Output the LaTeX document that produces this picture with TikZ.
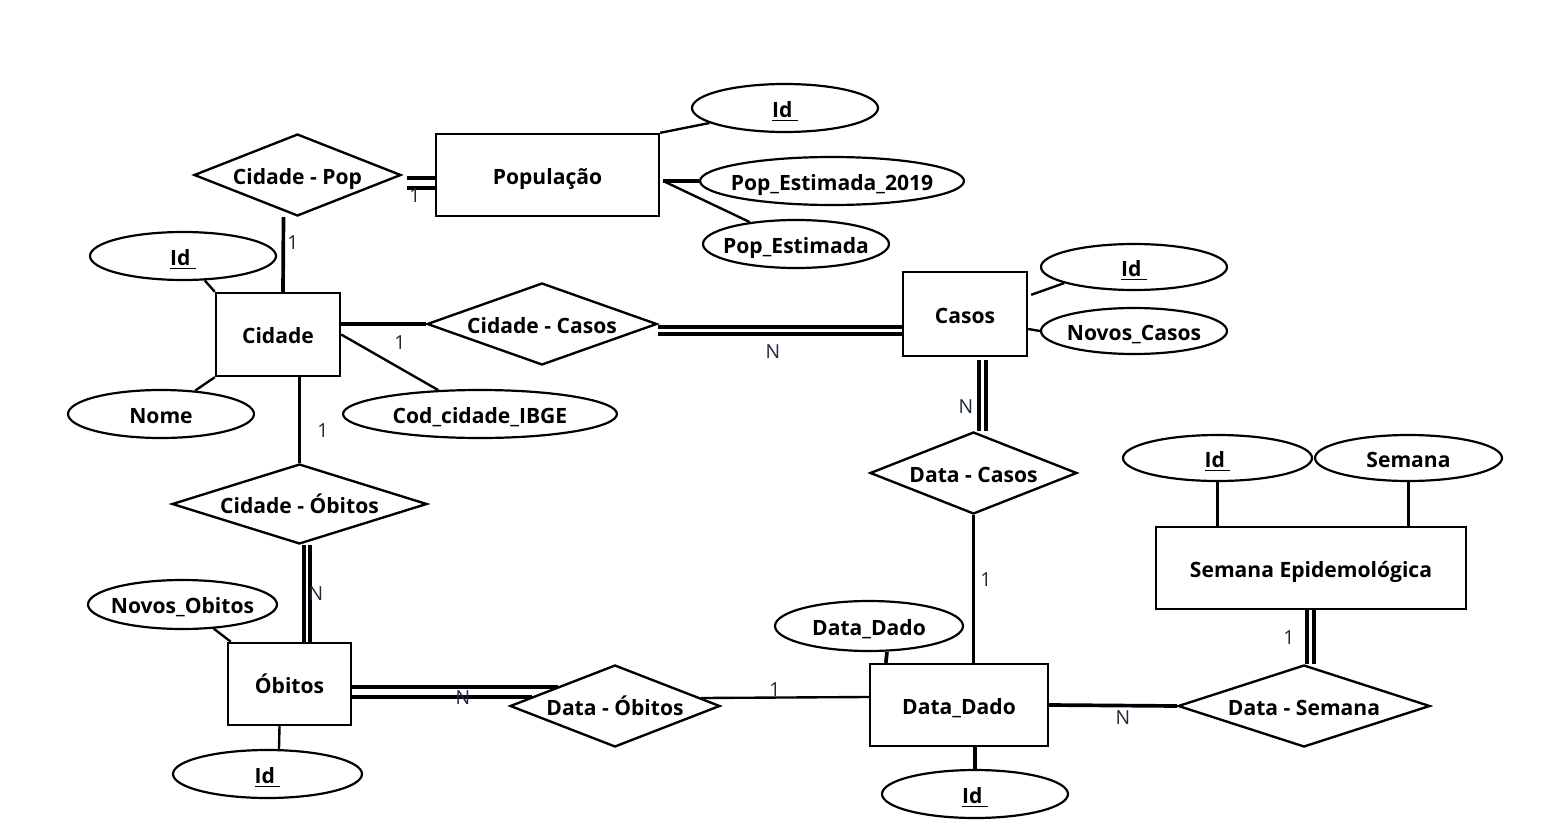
\documentclass[tikz,border=0pt]{standalone}
\usepackage{fontspec}
\setmainfont{Open Sans}
\usetikzlibrary{calc,shapes.geometric}
\definecolor{cardcor}{RGB}{30,40,60}
\def\chave#1{\underline{#1\ }}

\begin{document}
\begin{tikzpicture}[x=0.02cm, y=-0.02cm,
	entidade/.style={draw, line width=1.35pt, rectangle, inner sep=0pt, text height=12.5pt, text depth=2pt, font=\fontsize{12}{14}\selectfont\bfseries},
	atributo/.style={draw, line width=1.25pt, ellipse, inner sep=-3cm, text height=12.5pt, text depth=2pt, font=\fontsize{12}{14}\selectfont\bfseries},
	relacao/.style={draw, line width=1.35pt, diamond, aspect=2.5, inner sep=-3cm, text height=12.5pt, text depth=2pt, font=\fontsize{12}{14}\selectfont\bfseries},
	liga/.style={line width=1.35pt},
	grossa/.style={line width=2.1pt},
	card/.style={inner sep=0pt, text=cardcor, font=\fontsize{11}{13}\selectfont}]
	%%%%% START %%%%%
	
	\useasboundingbox (0,0) rectangle (1542,838);
	
	% entidades
	\node[entidade, minimum width=4.46cm, minimum height=1.64cm] (pop) at (547.5,175) {População};
	\node[entidade, minimum width=2.48cm, minimum height=1.66cm] (cidade) at (278,334.5) {Cidade};
	\node[entidade, minimum width=2.48cm, minimum height=1.68cm] (casos) at (965,314) {Casos};
	\node[entidade, minimum width=6.2cm, minimum height=1.64cm] (semepi) at (1311,568) {Semana Epidemológica};
	\node[entidade, minimum width=3.56cm, minimum height=1.64cm] (datadado) at (959,705) {Data\_Dado};
	\node[entidade, minimum width=2.46cm, minimum height=1.64cm] (obitos) at (289.5,684) {Óbitos};
	
	% relacionamentos
	\node[relacao, minimum width=4.14cm, minimum height=1.64cm] (cidpop) at (297.5,175) {Cidade - Pop};
	\node[relacao, minimum width=4.6cm, minimum height=1.64cm] (cidcasos) at (542,324) {Cidade - Casos};
	\node[relacao, minimum width=4.14cm, minimum height=1.64cm] (datacasos) at (973.5,473) {Data - Casos};
	\node[relacao, minimum width=5.04cm, minimum height=1.64cm] (datasem) at (1304,706) {Data - Semana};
	\node[relacao, minimum width=4.2cm, minimum height=1.64cm] (dataob) at (615,706) {Data - Óbitos};
	\node[relacao, minimum width=5.1cm, minimum height=1.6cm] (cidob) at (299.5,504) {Cidade - Óbitos};
	
	% atributos
	\node[atributo, minimum width=3.72cm, minimum height=0.96cm] (popid) at (785,108) {\chave{Id}};
	\node[atributo, minimum width=5.28cm, minimum height=0.96cm] (popest19) at (832,181) {Pop\_Estimada\_2019};
	\node[atributo, minimum width=3.72cm, minimum height=0.96cm] (popest) at (796,244) {Pop\_Estimada};
	\node[atributo, minimum width=3.72cm, minimum height=0.96cm] (cidid) at (183,256) {\chave{Id}};
	\node[atributo, minimum width=3.72cm, minimum height=0.96cm] (cidnome) at (161,414) {Nome};
	\node[atributo, minimum width=5.48cm, minimum height=0.96cm] (cidcod) at (480,414) {Cod\_cidade\_IBGE};
	\node[atributo, minimum width=3.72cm, minimum height=0.92cm] (casid) at (1134,267) {\chave{Id}};
	\node[atributo, minimum width=3.72cm, minimum height=0.92cm] (casnovos) at (1134,331) {Novos\_Casos};
	\node[atributo, minimum width=3.78cm, minimum height=0.92cm] (semid) at (1217.5,458) {\chave{Id}};
	\node[atributo, minimum width=3.74cm, minimum height=0.92cm] (semsem) at (1408.5,458) {Semana};
	\node[atributo, minimum width=3.76cm, minimum height=1.0cm] (dddata) at (869,626) {Data\_Dado};
	\node[atributo, minimum width=3.72cm, minimum height=0.96cm] (ddid) at (975,794) {\chave{Id}};
	\node[atributo, minimum width=3.78cm, minimum height=0.98cm] (obnovos) at (182.5,604.5) {Novos\_Obitos};
	\node[atributo, minimum width=3.78cm, minimum height=0.96cm] (obid) at (267.5,774) {\chave{Id}};
	
	% atributos -- entidades
	\draw[liga] (pop.north east) -- (popid);
	\draw[grossa] ($(pop.east)+(3,6)$) -- (popest19.west);
	\draw[liga] ($(pop.east)+(3,6)$) -- (popest);
	\draw[liga] (cidade.north west) -- (cidid);
	\draw[liga] (cidade.south west) -- (cidnome);
	\draw[liga] (cidade.east) -- (cidcod);
	\draw[liga] ($(casos.north east)+(3,24)$) -- (casid.193);
	\draw[liga] ($(casos.east)+(0,15)$) -- (casnovos.west);
	\draw[grossa] (semid.south) -- (semid.south |- semepi.north);
	\draw[grossa] (semsem.south) -- (semsem.south |- semepi.north);
	\draw[grossa] ($(datadado.north west)+(17,0)$) -- ($(dddata.south)+(18,0)$);
	\draw[grossa] ($(datadado.south)+(16,0)$) -- (ddid.north);
	\draw[liga] ($(obitos.north west)+(4,0)$) -- (obnovos);
	\draw[liga] ($(obitos.south)+(-10,0)$) -- ($(obid.north)+(11.5,0)$);
	
	% relacionamentos -- entidades
	\draw[grossa] ($(cidpop.east)+(5,3)$) -- ($(pop.west)+(0,3)$);
	\draw[grossa] ($(cidpop.east)+(5,13)$) -- ($(pop.west)+(0,13)$);
	\node[card] (c1) at (415,196) {1};
	
	\draw[grossa] ($(cidpop.south)+(-14,0)$) -- ($(cidade.north)+(5,0)$);
	\node[card] (c2) at (293,243) {1};
	
	\draw[grossa] (cidcasos.west -| cidade.east) -- (cidcasos.west);
	\node[card] (c3) at (400,343) {1};
	
	\draw[grossa] ($(cidcasos.east)+(0,3)$) -- ($(casos.west)+(0,13)$);
	\draw[grossa] ($(cidcasos.east)+(0,10)$) -- ($(casos.west)+(0,20)$);
	\node[card] (c4) at (773,352) {N};
	
	\draw[grossa] ($(casos.south)+(14,3)$) -- ($(datacasos.north)+(5.5,0)$);
	\draw[grossa] ($(casos.south)+(21,3)$) -- ($(datacasos.north)+(12.5,0)$);
	\node[card] (c5) at (966,407) {N};
	
	\draw[grossa] (datacasos.south) -- (datacasos.south |- datadado.north);
	\node[card] (c6) at (986,580) {1};
	
	\draw[grossa] (cidob.north |- cidade.south) -- (cidob.north);
	\node[card] (c7) at (323,431) {1};
	
	\draw[grossa] ($(cidob.south)+(4.5,0)$) -- ($(obitos.north)+(14.5,0)$);
	\draw[grossa] ($(cidob.south)+(10.5,0)$) -- ($(obitos.north)+(20.5,0)$);
	\node[card] (c8) at (316,594) {N};
	
	\draw[grossa] ($(obitos.east)+(0,3)$) -- ($(dataob.west)+(48.7,-19)$);
	\draw[grossa] ($(obitos.east)+(0,13)$) -- ($(dataob.west)+(23,-9)$);
	\node[card] (c9) at (463,698) {N};
	
	\draw[liga] ($(dataob.east)+(-20,-8)$) -- ($(datadado.west)+(0,-8)$);
	\node[card] (c10) at (775,690) {1};
	
	\draw[grossa] (datadado.east) -- (datasem.west);
	\node[card] (c11) at (1123,718) {N};
	
	\draw[grossa] ($(semepi.south)+(-4,0)$) -- ($(datasem.north)+(3,0)$);
	\draw[grossa] ($(semepi.south)+(3,0)$) -- ($(datasem.north)+(10,0)$);
	\node[card] (c12) at (1289,638) {1};
	
	%%%%% END %%%%%
\end{tikzpicture}
\end{document}
